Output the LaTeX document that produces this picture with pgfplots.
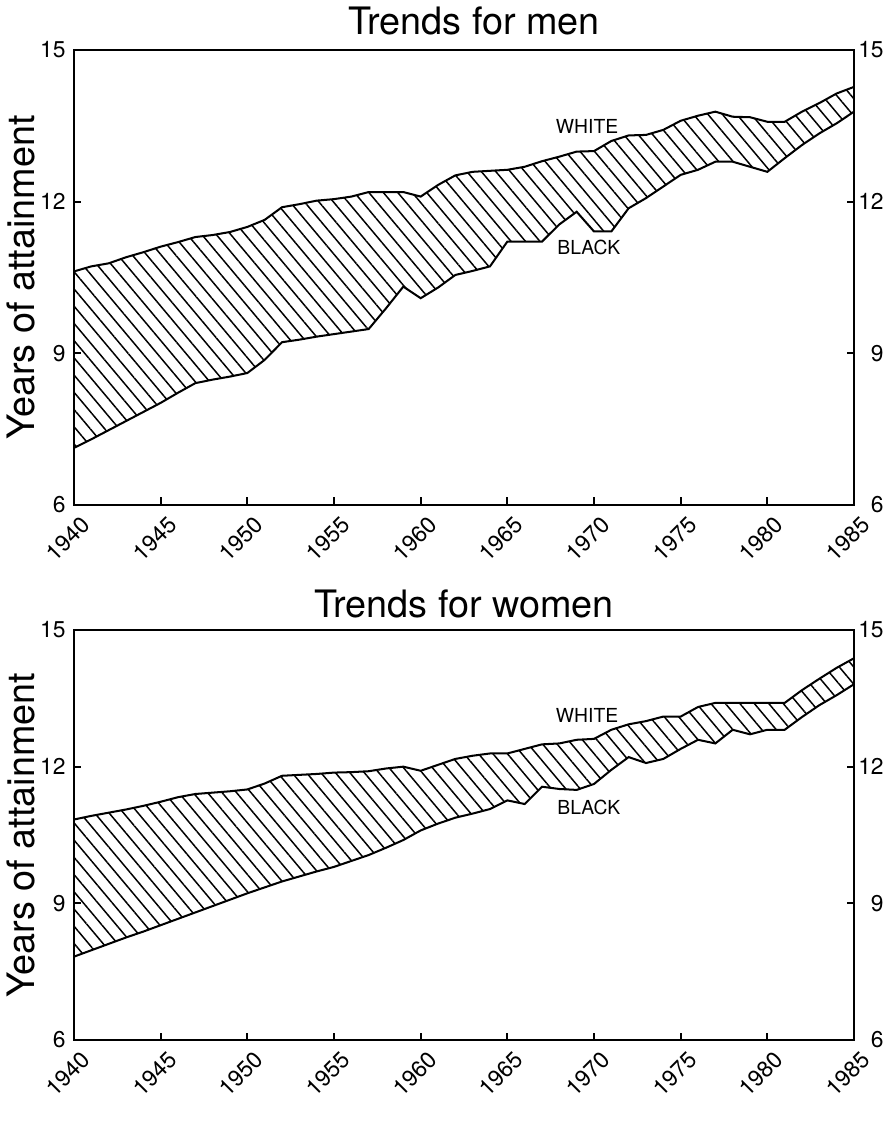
\documentclass[border=0pt]{standalone}
\usepackage{fontspec}
\setmainfont{TeX Gyre Heros}
\usepackage{pgfplots}
\usepackage{pgfplotstable}
\pgfplotsset{compat=1.18}
\usepgfplotslibrary{fillbetween}
\usetikzlibrary{patterns.meta}

% years of attainment
\pgfplotstableread{
year white black
1940 10.62 7.13
1941 10.72 7.30
1942 10.78 7.48
1943 10.90 7.66
1944 11.00 7.84
1945 11.11 8.02
1946 11.20 8.22
1947 11.30 8.41
1948 11.34 8.48
1949 11.40 8.54
1950 11.50 8.61
1951 11.64 8.87
1952 11.89 9.22
1953 11.95 9.27
1954 12.02 9.33
1955 12.05 9.38
1956 12.10 9.43
1957 12.19 9.48
1958 12.19 9.89
1959 12.19 10.32
1960 12.10 10.09
1961 12.33 10.30
1962 12.52 10.55
1963 12.59 10.63
1964 12.61 10.72
1965 12.63 11.21
1966 12.69 11.21
1967 12.80 11.21
1968 12.89 11.55
1969 12.99 11.80
1970 13.00 11.41
1971 13.20 11.41
1972 13.31 11.87
1973 13.32 12.07
1974 13.42 12.30
1975 13.60 12.53
1976 13.70 12.63
1977 13.78 12.79
1978 13.68 12.79
1979 13.67 12.69
1980 13.58 12.59
1981 13.58 12.86
1982 13.78 13.12
1983 13.95 13.35
1984 14.14 13.55
1985 14.27 13.78
}\menData

\pgfplotstableread{
year white black
1940 10.84 7.83
1941 10.92 7.97
1942 10.99 8.11
1943 11.06 8.25
1944 11.14 8.38
1945 11.23 8.52
1946 11.33 8.66
1947 11.40 8.80
1948 11.43 8.94
1949 11.46 9.08
1950 11.50 9.22
1951 11.63 9.35
1952 11.80 9.48
1953 11.82 9.59
1954 11.84 9.70
1955 11.87 9.80
1956 11.88 9.93
1957 11.90 10.06
1958 11.96 10.22
1959 12.00 10.39
1960 11.91 10.60
1961 12.04 10.75
1962 12.17 10.88
1963 12.24 10.97
1964 12.29 11.07
1965 12.29 11.26
1966 12.39 11.18
1967 12.49 11.56
1968 12.51 11.51
1969 12.59 11.49
1970 12.61 11.62
1971 12.81 11.93
1972 12.93 12.21
1973 13.00 12.08
1974 13.10 12.17
1975 13.10 12.39
1976 13.31 12.59
1977 13.40 12.51
1978 13.40 12.81
1979 13.40 12.71
1980 13.40 12.81
1981 13.40 12.81
1982 13.68 13.09
1983 13.93 13.35
1984 14.17 13.57
1985 14.38 13.81
}\womenData

\pgfplotsset{
  panel/.style={
    scale only axis, width=15.6cm,
    xmin=1940, xmax=1985, ymin=6, ymax=15,
    xtick={1940,1945,...,1985}, ytick={6,9,12,15},
    tick align=inside, major tick length=0.15cm,
    axis line style={line width=1.15pt}, every tick/.style={line width=1.1pt, black},
    /pgf/number format/1000 sep={},
    /pgf/number format/assume math mode=true,
    tick label style={font=\fontsize{13}{15}\selectfont},
  },
  leftpanel/.style={
    panel, xtick pos=bottom, ytick pos=left,
    xticklabel style={xshift=0.12cm, yshift=-0.2cm, rotate=45, anchor=north east, inner sep=0pt},
    yticklabel style={inner sep=0pt, xshift=-0.16cm},
    ylabel={Years of attainment},
    ylabel style={at={(axis description cs:-0.05,0.5)}, anchor=south, inner sep=0pt,
      font=\fontsize{21.5}{25}\selectfont},
    title style={at={(axis description cs:0.5,1)}, anchor=south, inner sep=0pt,
      font=\fontsize{21.5}{25}\selectfont},
  },
  rightpanel/.style={
    panel, axis x line=none, axis y line*=right, tick align=inside,
    yticklabel style={anchor=east, inner sep=0pt, xshift=0.6cm},
  },
  hatch/.style={draw=none, pattern={Lines[angle=-50, distance=6.3pt, line width=0.85pt]}},
  edge/.style={black, line width=1.15pt, no marks},
}
\tikzset{tag/.style={font=\fontsize{11}{12}\selectfont}}

\begin{document}
\begin{tikzpicture}
\path (-1.48,-12.86) rectangle (16.4,10.1);

% men
\begin{axis}[leftpanel, height=9.1cm, at={(0,0)}, anchor=south west,
  title={Trends for men}, title style={yshift=0.09cm, xshift=0.2cm}]
  \addplot[edge, name path=W] table[x=year, y=white] {\menData};
  \addplot[edge, name path=B] table[x=year, y=black] {\menData};
  \addplot[hatch] fill between[of=W and B];
  \node[tag] at (axis cs:1969.6,13.48) {WHITE};
  \node[tag] at (axis cs:1969.7,11.09) {BLACK};
\end{axis}
\begin{axis}[rightpanel, height=9.1cm, at={(0,0)}, anchor=south west]
  \addplot[draw=none] coordinates {(1940,6) (1985,15)};
\end{axis}

% women
\begin{axis}[leftpanel, height=8.2cm, at={(0,-10.7cm)}, anchor=south west,
  title={Trends for women}, title style={yshift=0.03cm}]
  \addplot[edge, name path=W] table[x=year, y=white] {\womenData};
  \addplot[edge, name path=B] table[x=year, y=black] {\womenData};
  \addplot[hatch] fill between[of=W and B];
  \node[tag] at (axis cs:1969.6,13.13) {WHITE};
  \node[tag] at (axis cs:1969.7,11.11) {BLACK};
\end{axis}
\begin{axis}[rightpanel, height=8.2cm, at={(0,-10.7cm)}, anchor=south west]
  \addplot[draw=none] coordinates {(1940,6) (1985,15)};
\end{axis}
\end{tikzpicture}
\end{document}
